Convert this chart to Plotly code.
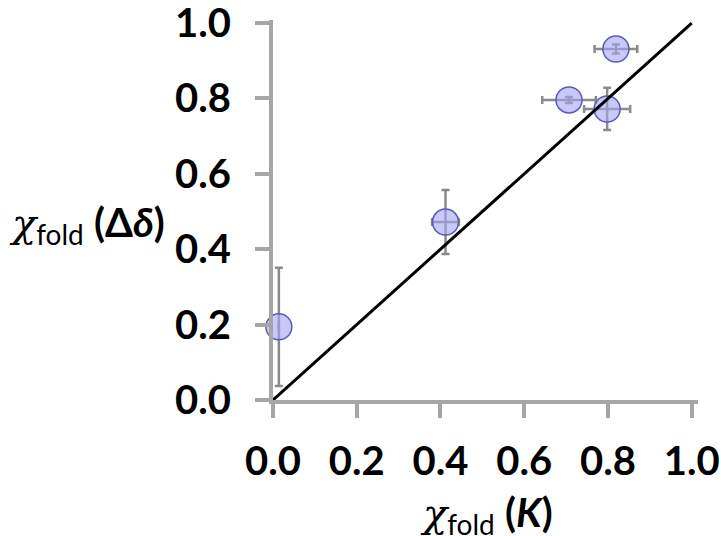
import plotly.graph_objects as go

# data
x_K = [0.014, 0.412, 0.707, 0.798, 0.819]
y_dd = [0.194, 0.472, 0.796, 0.772, 0.931]
x_err = [0.0, 0.032, 0.064, 0.055, 0.051]
y_err = [0.157, 0.085, 0.008, 0.056, 0.012]
diag_x = [0.0, 1.0]
diag_y = [0.0, 1.0]
tick_vals = [0.0, 0.2, 0.4, 0.6, 0.8, 1.0]
tick_text = ["0.0", "0.2", "0.4", "0.6", "0.8", "1.0"]

fig = go.Figure()
fig.add_trace(go.Scatter(
    x=x_K, y=y_dd, mode="markers", cliponaxis=False,
    marker=dict(size=26, color="rgba(165,165,245,0.6)",
                line=dict(color="#5a5ab8", width=1.5)),
    error_x=dict(type="data", array=x_err, color="#8a8a8a", thickness=2.5, width=4),
    error_y=dict(type="data", array=y_err, color="#8a8a8a", thickness=2.5, width=4),
    showlegend=False,
))
fig.add_trace(go.Scatter(x=diag_x, y=diag_y, mode="lines", cliponaxis=False,
                         line=dict(color="black", width=3), showlegend=False))

axis_common = dict(
    showgrid=False, zeroline=False, showline=True, linecolor="#a6a6a6", linewidth=4,
    ticks="outside", ticklen=14, tickwidth=4, tickcolor="#a6a6a6",
    tickvals=tick_vals, ticktext=tick_text, automargin=False,
    ticklabeloverflow="allow",
    tickfont=dict(family="Lato", size=40, color="black", weight="bold"),
)
fig.update_xaxes(range=[0, 1.015], ticklabelstandoff=9, **axis_common)
fig.update_yaxes(range=[0, 1.008], ticklabelstandoff=16, **axis_common)

chi = "<span style=\"font-family:'DejaVu Serif'\"><i>χ</i></span>"
fig.add_annotation(xref="paper", yref="paper", x=-0.626, y=0.462, xanchor="left", yanchor="middle",
                   showarrow=False,
                   text=chi + "<sub>fold</sub> <b>(Δ<i>δ</i>)</b>",
                   font=dict(family="Lato", size=40, color="black"))
fig.add_annotation(xref="paper", yref="paper", x=0.503, y=-0.300, xanchor="center", yanchor="middle",
                   showarrow=False,
                   text=chi + "<sub>fold</sub> <b>(<i>K</i>)</b>",
                   font=dict(family="Lato", size=40, color="black"))

fig.update_layout(
    width=721, height=536,
    margin=dict(l=273, r=23, t=20, b=136, autoexpand=False),
    plot_bgcolor="white", paper_bgcolor="white",
)
fig.write_html("out.html", config={"displayModeBar": False},
               post_script="document.body.style.margin='0';document.body.style.padding='0';")
